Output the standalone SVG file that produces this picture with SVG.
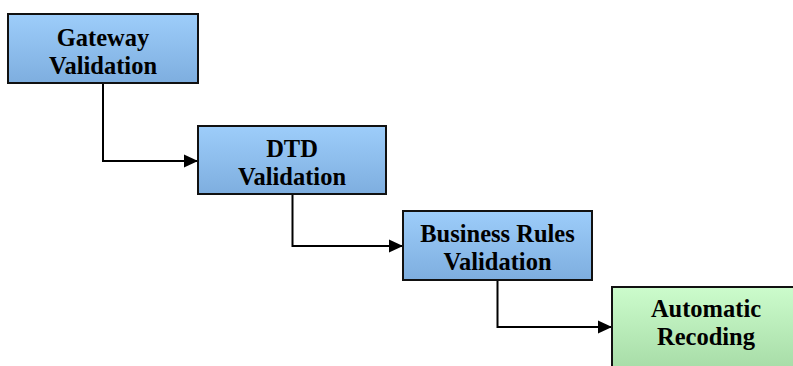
<svg xmlns="http://www.w3.org/2000/svg" width="793" height="366" viewBox="0 0 793 366">
<defs>
<linearGradient id="blue" x1="0" y1="0" x2="0" y2="1">
<stop offset="0" stop-color="#9dcdfa"/>
<stop offset="1" stop-color="#7eaedf"/>
</linearGradient>
<linearGradient id="green" x1="0" y1="0" x2="0" y2="1">
<stop offset="0" stop-color="#ccfccc"/>
<stop offset="1" stop-color="#a6dba6"/>
</linearGradient>
<marker id="arr" markerWidth="14" markerHeight="14" refX="14" refY="7" orient="auto" markerUnits="userSpaceOnUse">
<path d="M0,0.5 L14,7 L0,13.5 Z" fill="#000"/>
</marker>
</defs>
<style>
.box{stroke:#111;stroke-width:2}
.b{fill:url(#blue)}
.g{fill:url(#green)}
.t{font-family:"Liberation Serif","Times New Roman",serif;font-weight:bold;font-size:24.5px;fill:#000;text-anchor:middle}
.c{fill:none;stroke:#000;stroke-width:2}
</style>
<rect width="793" height="366" fill="#fff"/>
<g id="connectors">
<path class="c" d="M103,83 V161 H198" marker-end="url(#arr)"/>
<path class="c" d="M292.5,194 V246 H403" marker-end="url(#arr)"/>
<path class="c" d="M497.5,280 V327 H612" marker-end="url(#arr)"/>
</g>
<g id="gateway">
<rect class="box b" x="8" y="14" width="190" height="69"/>
<text class="t" x="103" y="46">Gateway</text>
<text class="t" x="103" y="74">Validation</text>
</g>
<g id="dtd">
<rect class="box b" x="198" y="126" width="188" height="68"/>
<text class="t" x="292" y="157">DTD</text>
<text class="t" x="292" y="185">Validation</text>
</g>
<g id="business">
<rect class="box b" x="403" y="211" width="189" height="69"/>
<text class="t" x="497.5" y="242">Business Rules</text>
<text class="t" x="497.5" y="270">Validation</text>
</g>
<g id="recoding">
<rect class="box g" x="612" y="287" width="189" height="85"/>
<text class="t" x="706" y="317">Automatic</text>
<text class="t" x="706" y="345">Recoding</text>
</g>
</svg>
